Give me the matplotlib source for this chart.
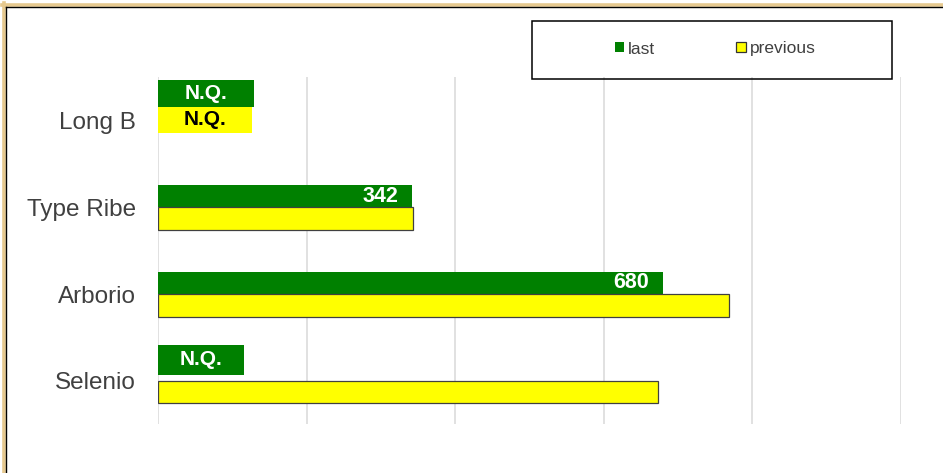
import matplotlib.pyplot as plt
from matplotlib.patches import Patch, Rectangle
from matplotlib.lines import Line2D

plt.rcParams['font.family'] = ['Liberation Sans', 'DejaVu Sans']

# dati
categories = ["Long B", "Type Ribe", "Arborio", "Selenio"]
last = [None, 342, 680, None]
previous = [None, 343, 768, 673]
# caselle "N.Q." (larghezza stimata in unita' dell'asse)
nq_last = [129, None, None, 116]
nq_previous = [126, None, None, None]
series_names = ["last", "previous"]

GREEN = "#008000"
YELLOW = "#FFFF00"
W, H = 943, 473

fig = plt.figure(figsize=(W / 100, H / 100), dpi=100)
ax = fig.add_axes([158 / W, 1 - 424.3 / H, 743 / W, 347 / H])

ypos = list(range(len(categories)))
bh = 0.26

for i in ypos:
    if last[i] is not None:
        ax.barh(i - bh / 2, last[i], height=bh, color=GREEN, zorder=3)
        ax.annotate(str(last[i]), (last[i], i - bh / 2), xytext=(-10, 0),
                    textcoords="offset points", ha="right", va="center",
                    color="white", fontsize=15.5, fontweight="bold", zorder=4)
    if previous[i] is not None:
        ax.barh(i + bh / 2, previous[i], height=bh, color=YELLOW,
                edgecolor="#404040", linewidth=0.9, zorder=3)

# caselle N.Q.
nq_offset_last = [-0.316, None, None, -0.244]
nq_height_last = [0.31, None, None, 0.34]
for i in ypos:
    if nq_last[i] is not None:
        yc = i + nq_offset_last[i]
        ax.barh(yc, nq_last[i], height=nq_height_last[i], color=GREEN, zorder=3)
        ax.text(nq_last[i] / 2, yc, "N.Q.", ha="center", va="center",
                color="white", fontsize=15, fontweight="bold", zorder=4)
    if nq_previous[i] is not None:
        yc = i - 0.01
        ax.barh(yc, nq_previous[i], height=0.30, color=YELLOW, zorder=3)
        ax.text(nq_previous[i] / 2, yc, "N.Q.", ha="center", va="center",
                color="black", fontsize=15, fontweight="bold", zorder=4)

ax.set_xlim(0, 1000)
ax.set_ylim(3.5, -0.5)
ax.set_xticks(range(0, 1001, 200))
ax.set_xticklabels([])
ax.set_yticks(ypos)
ax.set_yticklabels(categories, fontsize=17.5, color="#404040")
ax.tick_params(axis="both", length=0)
ax.tick_params(axis="y", pad=16)
ax.grid(axis="x", color="#d9d9d9", linewidth=1.1, zorder=0)
ax.set_axisbelow(True)
for s in ax.spines.values():
    s.set_visible(False)

# legenda
handles = [Patch(facecolor=GREEN, edgecolor=GREEN, linewidth=0),
           Patch(facecolor=YELLOW, edgecolor="#333333", linewidth=0.9)]
fig.legend(handles, series_names, loc="center", ncol=2,
           bbox_to_anchor=(715 / W, 1 - 49 / H), frameon=False,
           fontsize=12.5, handlelength=0.55, handleheight=0.5,
           handletextpad=0.2, columnspacing=4.7, borderpad=0,
           labelcolor="#404040")
fig.patches.append(Rectangle((532.3 / W, 1 - 78.7 / H), 359.4 / W, 58 / H,
                             transform=fig.transFigure, fill=False,
                             edgecolor="black", linewidth=1.1))

# cornice
tan = "#E6C98F"
fig.lines.append(Line2D([3.5 / W, 3.5 / W], [0, 1 - 3 / H], color=tan,
                        linewidth=2.6, transform=fig.transFigure))
fig.lines.append(Line2D([2 / W, 1], [1 - 5 / H, 1 - 5 / H], color=tan,
                        linewidth=2.6, transform=fig.transFigure))
fig.lines.append(Line2D([6 / W, 6 / W], [0, 1 - 7.5 / H], color="black",
                        linewidth=1.0, transform=fig.transFigure))
fig.lines.append(Line2D([6 / W, 1], [1 - 7.5 / H, 1 - 7.5 / H], color="black",
                        linewidth=1.0, transform=fig.transFigure))

fig.savefig("out.png", dpi=100)
